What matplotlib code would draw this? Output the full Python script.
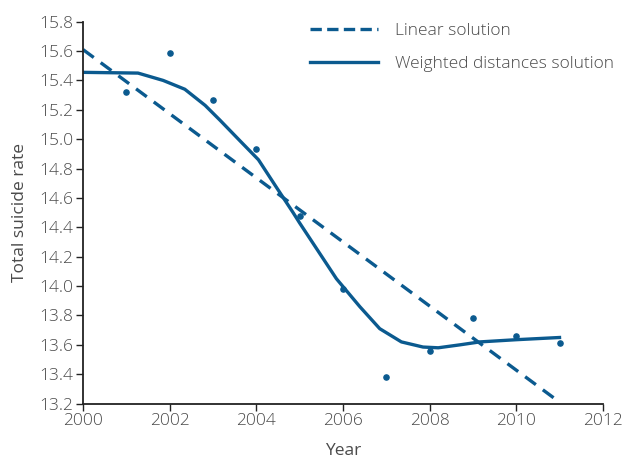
import numpy as np
import matplotlib.pyplot as plt

# observed yearly totals
years = [2001, 2002, 2003, 2004, 2005, 2006, 2007, 2008, 2009, 2010, 2011]
rates = [15.32, 15.585, 15.27, 14.93, 14.48, 13.98, 13.38, 13.56, 13.78, 13.66, 13.615]

# linear solution (end points)
lin_x = [2000, 2011]
lin_y = [15.61, 13.21]

# weighted distances solution
wd_x = [2000, 2001.27, 2001.85, 2002.35, 2002.82, 2003.16, 2003.62, 2004.05, 2004.47,
        2004.85, 2005.0, 2005.85, 2006.39, 2006.85, 2007.35, 2007.85, 2008.2, 2008.7,
        2009.16, 2010.0, 2011.0]
wd_y = [15.455, 15.45, 15.40, 15.34, 15.23, 15.13, 14.99, 14.86, 14.67,
        14.50, 14.43, 14.05, 13.86, 13.71, 13.62, 13.585, 13.58, 13.60,
        13.62, 13.635, 13.65]

blue = '#0b5a8f'
grey = '#4a4a4a'

plt.rcParams['font.family'] = ['Open Sans', 'DejaVu Sans']
plt.rcParams['font.weight'] = 'light'
fig = plt.figure(figsize=(6.26, 4.61), dpi=100)
ax = fig.add_axes([0.1326, 0.1245, 0.8304, 0.8285])

ax.plot(lin_x, lin_y, color=blue, lw=2.4, ls=(0, (4, 2.6)), label='Linear solution')
ax.plot(wd_x, wd_y, color=blue, lw=2.4, label='Weighted distances solution')
ax.scatter(years, rates, color=blue, s=14, zorder=3)

ax.set_xlim(2000, 2012)
ax.set_ylim(13.2, 15.8)
ax.set_xticks(np.arange(2000, 2013, 2))
ax.set_yticks(np.arange(13.2, 15.81, 0.2))
ax.set_yticklabels([f'{v:.1f}' for v in np.arange(13.2, 15.81, 0.2)])

for s in ['top', 'right']:
    ax.spines[s].set_visible(False)
for s in ['left', 'bottom']:
    ax.spines[s].set_color('#222222')
    ax.spines[s].set_linewidth(1.3)
ax.tick_params(direction='out', length=5, width=1, color='#222222',
               labelsize=12.5, labelcolor=grey, pad=2)

ax.set_xlabel('Year', fontsize=12.5, color=grey, labelpad=10)
ax.set_ylabel('Total suicide rate', fontsize=12.5, color=grey, labelpad=8)

leg = ax.legend(loc='upper left', frameon=False, fontsize=12.5, labelcolor=grey,
                handlelength=3.9, handletextpad=1.0, labelspacing=0.95, borderpad=0,
                borderaxespad=0, bbox_to_anchor=(310 / 626, 1 - 23 / 461),
                bbox_transform=fig.transFigure)
leg.get_lines()[0].set_linestyle((0, (3.4, 1.6)))

fig.savefig('out.png', dpi=100)
